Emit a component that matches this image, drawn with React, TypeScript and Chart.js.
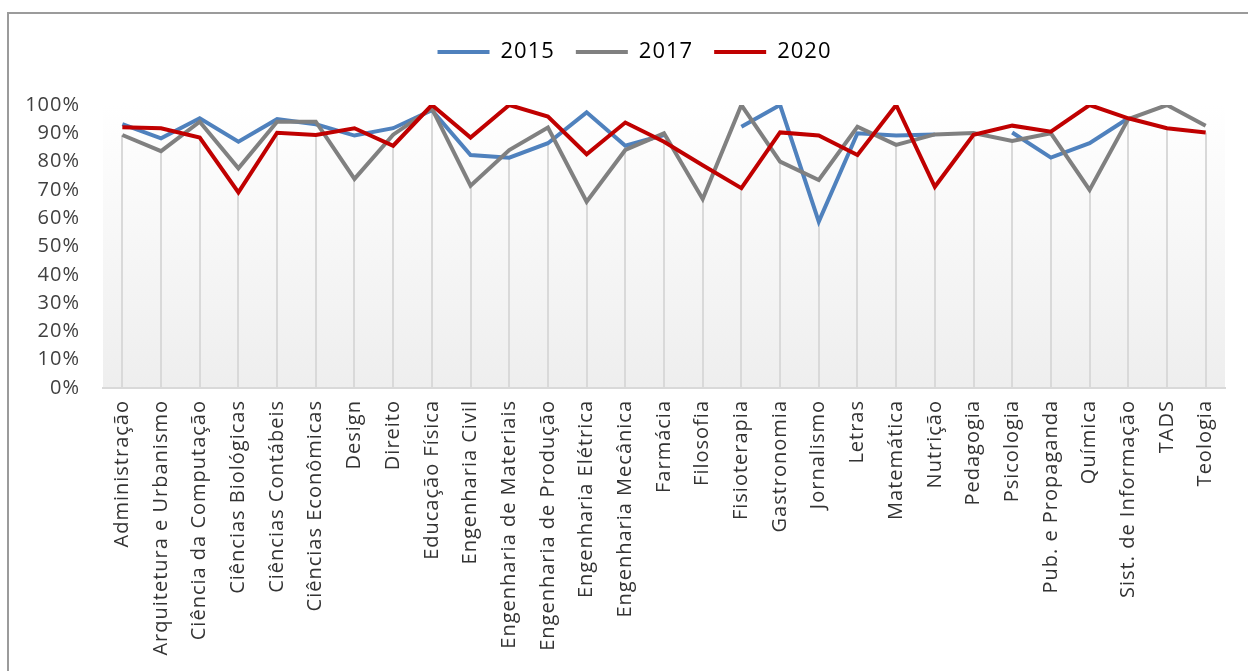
import React, { useEffect, useRef } from "react";
import { Chart, registerables } from "chart.js";

Chart.register(...registerables);

const categories = [
  "Administração", "Arquitetura e Urbanismo", "Ciência da Computação", "Ciências Biológicas",
  "Ciências Contábeis", "Ciências Econômicas", "Design", "Direito", "Educação Física",
  "Engenharia Civil", "Engenharia de Materiais", "Engenharia de Produção", "Engenharia Elétrica",
  "Engenharia Mecânica", "Farmácia", "Filosofia", "Fisioterapia", "Gastronomia", "Jornalismo",
  "Letras", "Matemática", "Nutrição", "Pedagogia", "Psicologia", "Pub. e Propaganda", "Química",
  "Sist. de Informação", "TADS", "Teologia",
];

const series2015: (number | null)[] = [
  93.2, 88.2, 95.3, 87.0, 95.0, 93.2, 89.2, 91.8, 98.2, 82.3, 81.4, 86.5, 97.4, 85.6, 89.4,
  null, 92.3, 100, 58.8, 90.0, 89.2, 89.6, null, 90.3, 81.4, 86.5, 95.3, null, null,
];

const series2017: (number | null)[] = [
  89.4, 83.7, 94.1, 77.6, 94.1, 94.1, 73.9, 89.5, 98.8, 71.5, 84.1, 92.0, 65.8, 84.1, 90.0,
  66.8, 100, 80.0, 73.5, 92.3, 85.9, 89.6, 90.1, 87.3, 90.0, 70.0, 95.0, 100, 92.7,
];

const series2020: (number | null)[] = [
  92.1, 91.8, 88.5, 69.1, 90.2, 89.4, 91.8, 85.6, 100, 88.5, 100, 95.9, 82.6, 93.8, 87.0,
  78.7, 70.6, 90.3, 89.2, 82.3, 100, 71.1, 89.5, 92.7, 90.6, 100, 95.3, 91.8, 90.3,
];

const seriesLabels = ["2015", "2017", "2020"];
const seriesColors = ["#4F81BD", "#808080", "#C00000"];
const yTicks = [0, 10, 20, 30, 40, 50, 60, 70, 80, 90, 100];

const FONT = "'Open Sans', 'Noto Sans', sans-serif";

const spacingPlugin = {
  id: "spacing",
  beforeLayout(chart: any) {
    try { chart.ctx.letterSpacing = "1px"; } catch (e) {}
  },
  afterLayout(chart: any) {
    if (chart.legend) {
      chart.legend.left += 35;
    }
  },
  beforeDraw(chart: any) {
    try { chart.ctx.letterSpacing = "1px"; } catch (e) {}
    const { ctx, chartArea } = chart;
    const g = ctx.createLinearGradient(0, chartArea.top, 0, chartArea.bottom);
    g.addColorStop(0, "#ffffff");
    g.addColorStop(1, "#eeeeee");
    ctx.save();
    ctx.fillStyle = g;
    ctx.fillRect(chartArea.left, chartArea.top, chartArea.right - chartArea.left, chartArea.bottom - chartArea.top);
    ctx.restore();
  },
};

const dropLinesPlugin = {
  id: "dropLines",
  beforeDatasetsDraw(chart: any) {
    const { ctx } = chart;
    const x = chart.scales.x;
    const y = chart.scales.y;
    ctx.save();
    ctx.strokeStyle = "#d9d9d9";
    ctx.lineWidth = 2;
    categories.forEach((_, i) => {
      const vals = chart.data.datasets
        .map((d: any) => d.data[i])
        .filter((v: any) => v !== null && v !== undefined);
      if (!vals.length) return;
      const minV = Math.min(...vals);
      const px = Math.round(x.getPixelForValue(i));
      ctx.beginPath();
      ctx.moveTo(px, y.getPixelForValue(minV));
      ctx.lineTo(px, y.getPixelForValue(0));
      ctx.stroke();
    });
    ctx.restore();
  },
};

const legendMarginPlugin = {
  id: "legendMargin",
  beforeInit(chart: any) {
    const legend = chart.legend;
    if (!legend) return;
    const origFit = legend.fit;
    legend.fit = function () {
      origFit.call(this);
      this.height = 85;
    };
  },
};

export default function App() {
  const canvasRef = useRef<HTMLCanvasElement | null>(null);

  useEffect(() => {
    if (!canvasRef.current) return;
    const allSeries = [series2015, series2017, series2020];
    const chart = new Chart(canvasRef.current, {
      type: "line",
      data: {
        labels: categories,
        datasets: allSeries.map((s, i) => ({
          label: seriesLabels[i],
          data: s,
          borderColor: seriesColors[i],
          backgroundColor: seriesColors[i],
          borderWidth: 4,
          pointRadius: 0,
          pointHoverRadius: 0,
          tension: 0,
          fill: false,
          spanGaps: false,
          order: 2 - i,
        })),
      },
      options: {
        responsive: false,
        animation: false,
        layout: { padding: { left: 0, right: 23, top: 6, bottom: 0 } },
        plugins: {
          tooltip: { enabled: false },
          title: { display: false },
          legend: {
            display: true,
            position: "top",
            align: "center",
            labels: {
              boxWidth: 52,
              boxHeight: 4,
              padding: 21,
              color: "#000000",
              font: { family: FONT, size: 22 },
              generateLabels: (c: any) =>
                c.data.datasets.map((ds: any, i: number) => ({
                  text: ds.label,
                  fillStyle: ds.borderColor,
                  strokeStyle: ds.borderColor,
                  lineWidth: 0,
                  hidden: false,
                  datasetIndex: i,
                  fontColor: "#000000",
                })),
            },
          },
        },
        scales: {
          x: {
            type: "category",
            offset: true,
            grid: { display: false, drawTicks: false },
            border: { display: true, color: "#d9d9d9", width: 2 },
            ticks: {
              autoSkip: false,
              minRotation: 90,
              maxRotation: 90,
              padding: 12,
              color: "#333333",
              font: { family: FONT, size: 20 },
            },
            afterFit: (scale: any) => {
              scale.height = 292;
            },
          },
          y: {
            min: 0,
            max: 100,
            afterBuildTicks: (scale: any) => {
              scale.ticks = yTicks.map((v) => ({ value: v }));
            },
            grid: { display: false, drawTicks: false },
            border: { display: false },
            ticks: {
              padding: 23,
              color: "#404040",
              font: { family: FONT, size: 20 },
              callback: (v: any) => `${v}%`,
            },
            afterFit: (scale: any) => {
              scale.width = 94;
            },
          },
        },
      },
      plugins: [legendMarginPlugin, spacingPlugin, dropLinesPlugin],
    } as any);
    return () => chart.destroy();
  }, []);

  return (
    <div
      style={{
        position: "fixed",
        left: 7,
        top: 12,
        width: 1243,
        height: 670,
        border: "2px solid #9b9b9b",
        boxSizing: "border-box",
        background: "#ffffff",
        overflow: "hidden",
      }}
    >
      <canvas ref={canvasRef} width={1239} height={666} style={{ display: "block", width: 1239, height: 666 }} />
    </div>
  );
}
